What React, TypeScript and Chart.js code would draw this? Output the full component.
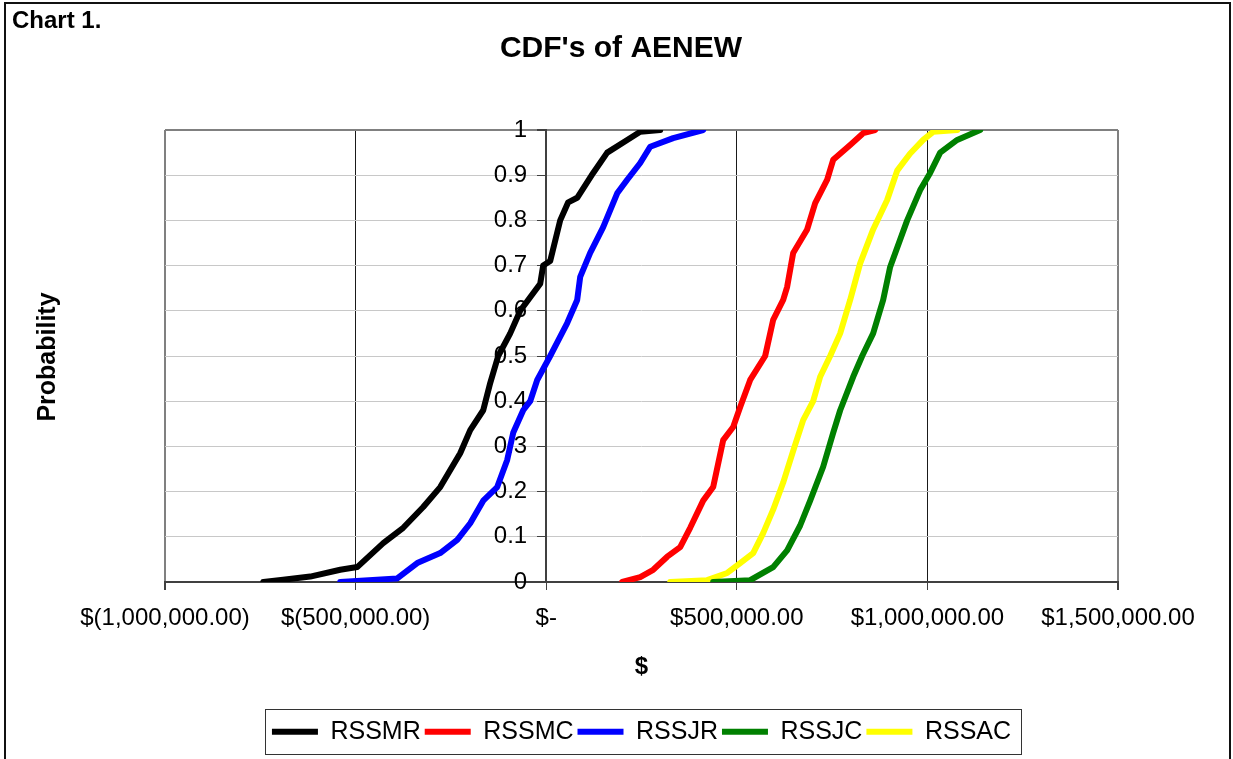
import React, { useEffect, useRef } from "react";
import { Chart, registerables } from "chart.js";

Chart.register(...registerables);

const FONT = "'Liberation Sans', Arial, Helvetica, sans-serif";

// ---- data -----------------------------------------------------------
const seriesNames = ["RSSMR", "RSSMC", "RSSJR", "RSSJC", "RSSAC"];
const seriesColors = ["#000000", "#FF0000", "#0000FF", "#008000", "#FFFF00"];

const rssmrValues = [-742000, -690000, -619000, -540300, -495700, -427500, -375100, -322600, -278000, -225600, -199300, -165200, -146900, -125900, -94400, -68200, -42000, -15700, -7900, 10500, 36700, 57700, 81300, 123300, 160000, 212500, 246600, 299000];
const rssmrProb = [0, 0.005, 0.012, 0.027, 0.033, 0.086, 0.12, 0.166, 0.21, 0.285, 0.336, 0.38, 0.44, 0.5, 0.55, 0.6, 0.63, 0.66, 0.7, 0.71, 0.8, 0.84, 0.85, 0.905, 0.95, 0.978, 0.996, 1];

const rssmcValues = [199300, 246600, 280700, 317400, 351500, 377700, 411800, 438000, 464300, 490500, 508900, 535100, 574400, 595400, 621700, 632100, 647900, 684600, 705600, 737100, 752800, 797400, 831500, 863000];
const rssmcProb = [0, 0.011, 0.027, 0.056, 0.077, 0.12, 0.18, 0.21, 0.314, 0.343, 0.387, 0.447, 0.5, 0.58, 0.624, 0.653, 0.728, 0.78, 0.838, 0.89, 0.934, 0.967, 0.993, 1];

const rssjrValues = [-540300, -390800, -338400, -278000, -233400, -199300, -165200, -128500, -102300, -86600, -60300, -42000, -23600, 10500, 55100, 81300, 89200, 115400, 149500, 186200, 212500, 246600, 272800, 333100, 411800];
const rssjrProb = [0, 0.008, 0.042, 0.064, 0.093, 0.13, 0.18, 0.21, 0.27, 0.33, 0.38, 0.4, 0.447, 0.5, 0.573, 0.624, 0.675, 0.728, 0.785, 0.86, 0.89, 0.927, 0.963, 0.982, 1];

const rssjcValues = [438000, 535100, 595400, 632100, 666200, 692500, 726600, 752800, 771200, 805300, 828900, 857700, 884000, 902300, 946900, 981000, 1007200, 1033500, 1078100, 1138400];
const rssjcProb = [0, 0.004, 0.033, 0.07, 0.125, 0.18, 0.255, 0.33, 0.38, 0.454, 0.5, 0.55, 0.624, 0.697, 0.8, 0.867, 0.905, 0.95, 0.978, 1];

const rssacValues = [325300, 422300, 474800, 508900, 543000, 569200, 595400, 621700, 647900, 674100, 700300, 718700, 744900, 771200, 797400, 823600, 857700, 894400, 920700, 954800, 988900, 1015100, 1078100];
const rssacProb = [0, 0.004, 0.02, 0.042, 0.064, 0.108, 0.16, 0.22, 0.29, 0.358, 0.4, 0.454, 0.5, 0.55, 0.624, 0.705, 0.78, 0.845, 0.91, 0.948, 0.978, 0.996, 1];

const xTickLabels = ["$(1,000,000.00)", "$(500,000.00)", "$-", "$500,000.00", "$1,000,000.00", "$1,500,000.00"];
const yTickLabels = ["0", "0.1", "0.2", "0.3", "0.4", "0.5", "0.6", "0.7", "0.8", "0.9", "1"];

const chartLabel = "Chart 1.";
const chartTitle = "CDF's of AENEW";
const xTitle = "$";
const yTitle = "Probability";

const seriesValues = [rssmrValues, rssmcValues, rssjrValues, rssjcValues, rssacValues];
const seriesProbs = [rssmrProb, rssmcProb, rssjrProb, rssjcProb, rssacProb];

// ---- plugins ----------------------------------------------------------
const textPlugin = {
  id: "freeTexts",
  afterDraw(chart: any) {
    const ctx = chart.ctx;
    ctx.save();
    ctx.fillStyle = "#000";
    ctx.textBaseline = "alphabetic";
    ctx.textAlign = "left";
    ctx.font = `bold 24px ${FONT}`;
    ctx.fillText(chartLabel, 12, 28);
    ctx.textAlign = "center";
    ctx.font = `bold 30px ${FONT}`;
    ctx.fillText(chartTitle, 621, 57);
    ctx.translate(48, 357);
    ctx.rotate(-Math.PI / 2);
    ctx.font = `bold 25px ${FONT}`;
    ctx.textBaseline = "middle";
    ctx.fillText(yTitle, 0, 0);
    ctx.restore();
  },
};

// y axis sits at x = 0 inside the plot; keep its labels clear of the tick marks
const yLabelGapPlugin = {
  id: "yLabelGap",
  afterLayout(chart: any) {
    const s = chart.scales.y;
    if (!s || s.__gapWrapped) return;
    const orig = s.drawLabels.bind(s);
    s.drawLabels = (area: any) => {
      const ctx = chart.ctx;
      ctx.save();
      ctx.translate(-19, 0);
      orig(area);
      ctx.restore();
    };
    s.__gapWrapped = true;
  },
};

const legendBoxPlugin = {
  id: "legendBox",
  afterDraw(chart: any) {
    const lg = chart.legend;
    if (!lg || !lg.legendHitBoxes || !lg.legendHitBoxes.length) return;
    const hb = lg.legendHitBoxes;
    const first = hb[0];
    const last = hb[hb.length - 1];
    const x1 = first.left - 7;
    const x2 = last.left + last.width + 10;
    const y1 = first.top - 10;
    const y2 = first.top + first.height + 10;
    const ctx = chart.ctx;
    ctx.save();
    ctx.strokeStyle = "#333";
    ctx.lineWidth = 1;
    ctx.strokeRect(Math.round(x1) + 0.5, Math.round(y1) + 0.5, Math.round(x2 - x1), Math.round(y2 - y1));
    ctx.restore();
  },
};

export default function App() {
  const ref = useRef<HTMLCanvasElement | null>(null);

  useEffect(() => {
    if (!ref.current) return;
    const datasets = seriesNames.map((name, i) => ({
      label: name,
      data: seriesValues[i].map((v, j) => ({ x: v, y: seriesProbs[i][j] })),
      borderColor: seriesColors[i],
      backgroundColor: seriesColors[i],
      borderWidth: 6,
      pointRadius: 0,
      showLine: true,
      tension: 0,
      borderJoinStyle: "round" as const,
      borderCapStyle: "round" as const,
    }));

    const chart = new Chart(ref.current, {
      type: "scatter",
      data: { datasets },
      plugins: [yLabelGapPlugin, textPlugin, legendBoxPlugin],
      options: {
        animation: false,
        responsive: false,
        devicePixelRatio: 1,
        events: [],
        layout: { padding: { left: 165, right: 115, top: 130, bottom: 4.8 } },
        plugins: {
          tooltip: { enabled: false },
          title: { display: false },
          legend: {
            display: true,
            position: "bottom",
            fullSize: false,
            labels: {
              boxWidth: 46,
              boxHeight: 6,
              padding: 4,
              color: "#000",
              font: { family: FONT, size: 25 },
              generateLabels: (c: any) =>
                c.data.datasets.map((d: any, i: number) => ({
                  text: d.label,
                  fillStyle: d.borderColor,
                  strokeStyle: d.borderColor,
                  lineWidth: 0,
                  hidden: false,
                  datasetIndex: i,
                })),
            },
          },
        },
        scales: {
          x: {
            type: "linear",
            position: "bottom",
            min: -1000000,
            max: 1500000,
            ticks: {
              stepSize: 500000,
              autoSkip: false,
              maxRotation: 0,
              color: "#000",
              padding: 14,
              font: { family: FONT, size: 24 },
              callback: (_v: any, i: number) => xTickLabels[i],
            },
            grid: {
              color: (c: any) =>
                c.tick && (c.tick.value === -1000000 || c.tick.value === 1500000) ? "#808080" : "#1a1a1a",
              lineWidth: (c: any) =>
                c.tick && (c.tick.value === -1000000 || c.tick.value === 1500000) ? 2 : 1,
              tickColor: "#404040",
              tickLength: 8,
              drawTicks: true,
            },
            border: { display: true, color: "#404040", width: 2 },
            title: {
              display: true,
              text: xTitle,
              color: "#000",
              font: { family: FONT, size: 24, weight: "bold" },
              padding: { top: 6, bottom: 33.6 },
            },
          },
          y: {
            type: "linear",
            position: { x: 0 },
            min: 0,
            max: 1,
            ticks: {
              stepSize: 0.1,
              color: "#000",
              padding: 11,
              font: { family: FONT, size: 24 },
              callback: (_v: any, i: number) => yTickLabels[i],
            },
            grid: {
              color: (c: any) => (c.tick && c.tick.value >= 0.999 ? "#808080" : "#c8c8c8"),
              lineWidth: (c: any) => (c.tick && c.tick.value >= 0.999 ? 2 : 1),
              tickColor: "#404040",
              tickLength: 8,
            },
            border: { display: true, color: "#404040", width: 2 },
          },
        },
      } as any,
    });
    return () => chart.destroy();
  }, []);

  return (
    <div
      style={{
        position: "fixed",
        left: 0,
        top: 0,
        width: 1233,
        height: 759,
        background: "#fff",
        overflow: "hidden",
      }}
    >
      <div
        style={{
          position: "absolute",
          left: 4,
          top: 2,
          width: 1227,
          height: 800,
          border: "2px solid #111",
          boxSizing: "border-box",
        }}
      />
      <canvas
        ref={ref}
        width={1233}
        height={759}
        style={{ position: "absolute", left: 0, top: 0, width: 1233, height: 759 }}
      />
    </div>
  );
}
